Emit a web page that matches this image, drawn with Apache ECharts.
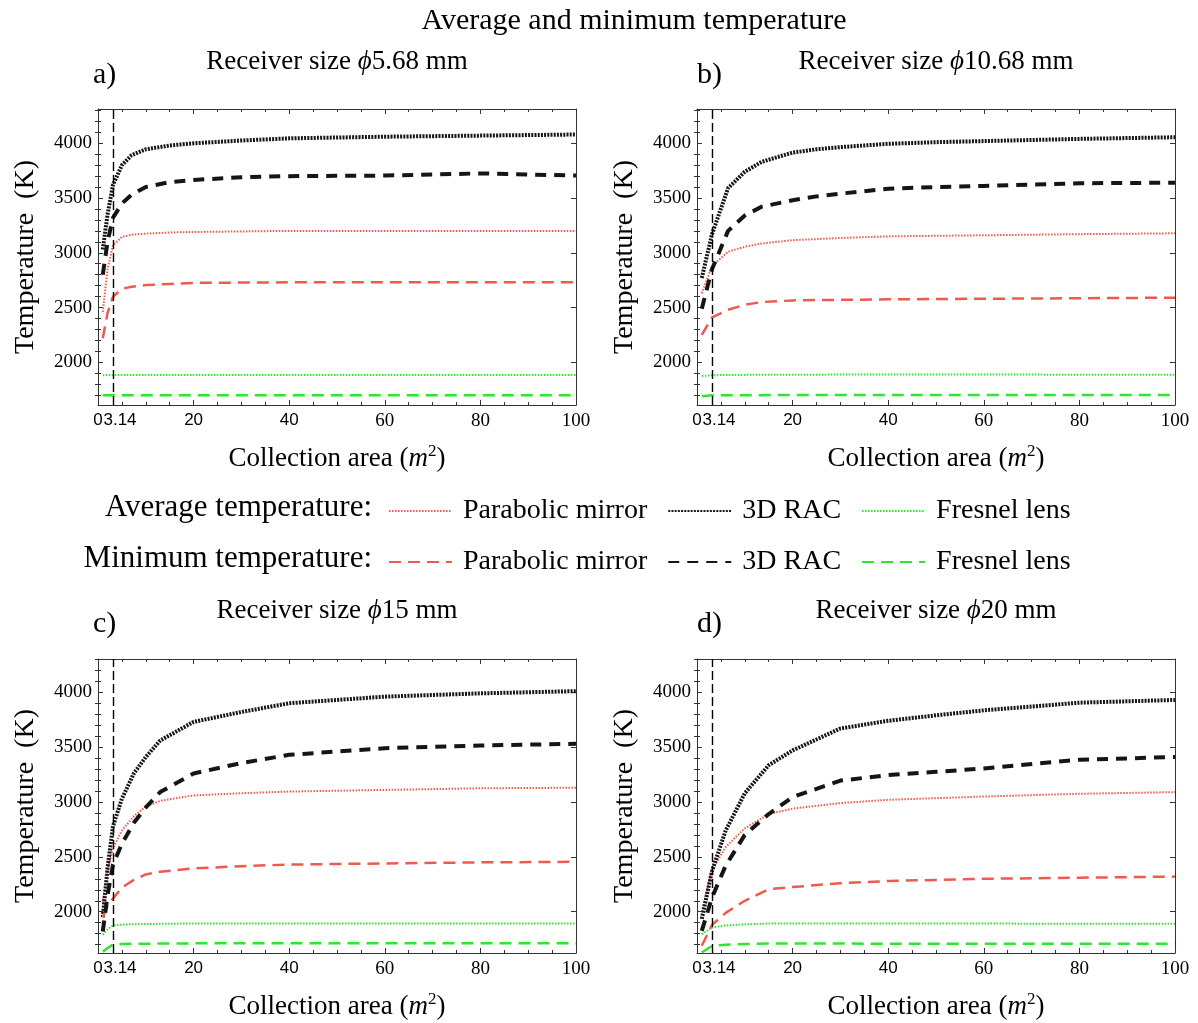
<!DOCTYPE html>
<html><head><meta charset="utf-8">
<script src="https://cdn.jsdelivr.net/npm/echarts@6/dist/echarts.min.js"></script>
<style>html,body{margin:0;padding:0;background:#fff}#c{width:1198px;height:1023px}</style>
</head><body><div id="c"></div>
<script>
// ---------- tick values ----------
const xTickLabels = [0, 3.14, 20, 40, 60, 80, 100];
const xMajorTicks = [0, 20, 40, 60, 80, 100];
const xMinorTicks = [5, 10, 15, 25, 30, 35, 45, 50, 55, 65, 70, 75, 85, 90, 95];
const yMajorTicks = [2000, 2500, 3000, 3500, 4000];
const yMinorTicks = [1700, 1800, 1900, 2100, 2200, 2300, 2400, 2600, 2700, 2800, 2900,
  3100, 3200, 3300, 3400, 3600, 3700, 3800, 3900, 4100, 4200, 4300];
const refX = 3.14;

// ---------- panel a : receiver 5.68 mm ----------
const xA      = [1, 2, 3.14, 5, 7, 10, 15, 20, 30, 40, 60, 80, 100];
const aAvgPar = [2460, 2850, 3070, 3145, 3165, 3175, 3185, 3190, 3195, 3200, 3200, 3200, 3200];
const aAvgRAC = [3030, 3350, 3620, 3800, 3890, 3945, 3980, 4000, 4025, 4045, 4060, 4070, 4080];
const aAvgFre = [1882, 1884, 1885, 1885, 1885, 1885, 1885, 1885, 1885, 1885, 1885, 1885, 1885];
const aMinPar = [2220, 2450, 2600, 2670, 2690, 2705, 2715, 2725, 2728, 2730, 2730, 2730, 2730];
const aMinRAC = [2800, 3100, 3320, 3450, 3530, 3600, 3645, 3665, 3690, 3700, 3705, 3725, 3705];
const aMinFre = [1698, 1700, 1700, 1700, 1700, 1700, 1700, 1700, 1700, 1700, 1700, 1700, 1700];

// ---------- panel b : receiver 10.68 mm ----------
const xB      = [1, 3.14, 6.5, 10, 13.5, 20, 25, 30, 40, 50, 60, 80, 100];
const bAvgPar = [2630, 2880, 3010, 3055, 3085, 3115, 3125, 3135, 3150, 3155, 3160, 3170, 3178];
const bAvgRAC = [2770, 3170, 3590, 3740, 3830, 3915, 3945, 3965, 3995, 4010, 4020, 4040, 4055];
const bAvgFre = [1875, 1882, 1884, 1885, 1886, 1887, 1887, 1888, 1888, 1888, 1888, 1887, 1886];
const bMinPar = [2250, 2410, 2480, 2525, 2550, 2565, 2568, 2570, 2575, 2578, 2580, 2585, 2590];
const bMinRAC = [2490, 2850, 3200, 3340, 3420, 3480, 3515, 3540, 3585, 3600, 3610, 3635, 3640];
const bMinFre = [1690, 1698, 1700, 1700, 1700, 1701, 1702, 1702, 1702, 1702, 1702, 1701, 1701];

// ---------- panel c : receiver 15 mm ----------
const xC      = [1, 2, 3.14, 5, 7.5, 10, 13, 20, 30, 40, 60, 80, 100];
const cAvgPar = [2080, 2380, 2580, 2740, 2870, 2960, 3010, 3060, 3080, 3095, 3110, 3125, 3130];
const cAvgRAC = [1950, 2400, 2780, 3030, 3260, 3410, 3560, 3730, 3820, 3900, 3960, 3990, 4010];
const cAvgFre = [1790, 1840, 1875, 1882, 1886, 1888, 1890, 1893, 1893, 1893, 1893, 1893, 1893];
const cMinPar = [1950, 2050, 2120, 2220, 2290, 2340, 2365, 2395, 2415, 2430, 2440, 2450, 2455];
const cMinRAC = [1820, 2150, 2430, 2620, 2810, 2950, 3090, 3260, 3355, 3430, 3490, 3515, 3530];
const cMinFre = [1635, 1670, 1700, 1705, 1708, 1709, 1710, 1712, 1712, 1712, 1712, 1712, 1712];

// ---------- panel d : receiver 20 mm ----------
const xD      = [1, 3.14, 6, 10, 15, 20, 30, 40, 50, 60, 80, 100];
const dAvgPar = [2000, 2380, 2590, 2760, 2890, 2940, 2990, 3020, 3035, 3050, 3075, 3090];
const dAvgRAC = [1935, 2370, 2740, 3080, 3335, 3470, 3670, 3740, 3790, 3835, 3905, 3930];
const dAvgFre = [1796, 1857, 1875, 1885, 1893, 1893, 1893, 1892, 1892, 1892, 1891, 1890];
const dMinPar = [1690, 1880, 1990, 2100, 2205, 2225, 2260, 2280, 2290, 2300, 2310, 2320];
const dMinRAC = [1825, 2130, 2420, 2700, 2890, 3045, 3195, 3245, 3275, 3305, 3385, 3410];
const dMinFre = [1628, 1689, 1700, 1705, 1710, 1710, 1710, 1708, 1708, 1708, 1708, 1708];

const panels = [
  {x: xA, d: [aAvgPar, aAvgRAC, aAvgFre, aMinPar, aMinRAC, aMinFre], ymin: 1610, ymax: 4313},
  {x: xB, d: [bAvgPar, bAvgRAC, bAvgFre, bMinPar, bMinRAC, bMinFre], ymin: 1610, ymax: 4313},
  {x: xC, d: [cAvgPar, cAvgRAC, cAvgFre, cMinPar, cMinRAC, cMinFre], ymin: 1624, ymax: 4303},
  {x: xD, d: [dAvgPar, dAvgRAC, dAvgFre, dMinPar, dMinRAC, dMinFre], ymin: 1624, ymax: 4303}
];
const seriesNames = ['Average: Parabolic mirror', 'Average: 3D RAC', 'Average: Fresnel lens',
                     'Minimum: Parabolic mirror', 'Minimum: 3D RAC', 'Minimum: Fresnel lens'];
const RED = '#ee5a4e', BLK = '#151515', GRN = '#2fe52f';
const lineStyles = [
  {color: RED, width: 2,   type: [1.5, 1.5]},
  {color: BLK, width: 4,   type: [2, 1.2]},
  {color: GRN, width: 2,   type: [1.5, 1.5]},
  {color: RED, width: 2.5, type: [12, 7]},
  {color: BLK, width: 4,   type: [11, 8]},
  {color: GRN, width: 2.5, type: [12, 7]}
];

const grids = [
  {left: 98, top: 109, width: 478, height: 296},
  {left: 697, top: 109, width: 478, height: 296},
  {left: 98, top: 659, width: 478, height: 294},
  {left: 697, top: 659, width: 478, height: 294}
];

const SERIF = '"Liberation Serif", "Times New Roman", serif';
const SANS = '"Liberation Sans", Arial, sans-serif';
const frame = {color: '#333', width: 1};

const xAxes = [], yAxes = [], series = [];
panels.forEach((p, g) => {
  const common = {gridIndex: g, type: 'value', min: 0, max: 100, splitLine: {show: false}};
  xAxes.push(Object.assign({}, common, {
    position: 'bottom',
    axisLine: {show: true, onZero: false, lineStyle: frame},
    axisTick: {show: true, inside: true, length: 5, customValues: xMajorTicks, lineStyle: frame},
    axisLabel: {
      show: true, customValues: xTickLabels, margin: 7, color: '#000',
      formatter: v => v === 3.14 ? '{p|3.14}' : (v <= 40 ? '{s|' + v + '}' : '{t|' + v + '}'),
      rich: {
        s: {fontFamily: SANS, fontSize: 17, color: '#000'},
        p: {fontFamily: SANS, fontSize: 17, color: '#000', padding: [0, 0, 0, 14]},
        t: {fontFamily: SERIF, fontSize: 19, color: '#000'}
      }
    },
    name: 'Collection area ({i|m}{s|2})', nameLocation: 'middle', nameGap: 38,
    nameTextStyle: {
      fontFamily: SERIF, fontSize: 27, color: '#000',
      rich: {
        i: {fontFamily: SERIF, fontSize: 27, fontStyle: 'italic', color: '#000'},
        s: {fontFamily: SERIF, fontSize: 17, color: '#000', padding: [0, 0, 14, 0]}
      }
    }
  }));
  xAxes.push(Object.assign({}, common, {
    position: 'bottom', axisLine: {show: false},
    axisTick: {show: true, inside: true, length: 3, customValues: xMinorTicks, lineStyle: frame},
    axisLabel: {show: false}
  }));
  xAxes.push(Object.assign({}, common, {
    position: 'top', axisLine: {show: true, onZero: false, lineStyle: frame},
    axisTick: {show: true, inside: true, length: 5, customValues: xMajorTicks, lineStyle: frame},
    axisLabel: {show: false}
  }));
  xAxes.push(Object.assign({}, common, {
    position: 'top', axisLine: {show: false},
    axisTick: {show: true, inside: true, length: 3, customValues: xMinorTicks, lineStyle: frame},
    axisLabel: {show: false}
  }));

  const yc = {gridIndex: g, type: 'value', min: p.ymin, max: p.ymax, splitLine: {show: false}};
  yAxes.push(Object.assign({}, yc, {
    position: 'left',
    axisLine: {show: true, onZero: false, lineStyle: frame},
    axisTick: {show: true, inside: true, length: 5, customValues: yMajorTicks, lineStyle: frame},
    axisLabel: {show: true, customValues: yMajorTicks, margin: 6, color: '#000',
                fontFamily: SERIF, fontSize: 19, formatter: v => String(v)},
    name: 'Temperature  (K)', nameLocation: 'middle', nameGap: 58,
    nameTextStyle: {fontFamily: SERIF, fontSize: 28, color: '#000'}
  }));
  yAxes.push(Object.assign({}, yc, {
    position: 'left', axisLine: {show: false},
    axisTick: {show: true, inside: true, length: 3, customValues: yMinorTicks, lineStyle: frame},
    axisLabel: {show: false}
  }));
  yAxes.push(Object.assign({}, yc, {
    position: 'right', axisLine: {show: true, onZero: false, lineStyle: frame},
    axisTick: {show: true, inside: true, length: 5, customValues: yMajorTicks, lineStyle: frame},
    axisLabel: {show: false}
  }));
  yAxes.push(Object.assign({}, yc, {
    position: 'right', axisLine: {show: false},
    axisTick: {show: true, inside: true, length: 3, customValues: yMinorTicks, lineStyle: frame},
    axisLabel: {show: false}
  }));

  p.d.forEach((ys, k) => {
    const s = {
      name: seriesNames[k], type: 'line', xAxisIndex: g * 4, yAxisIndex: g * 4,
      symbol: 'none', smooth: false, silent: true, animation: false,
      lineStyle: lineStyles[k], itemStyle: {color: lineStyles[k].color},
      data: p.x.map((x, i) => [x, ys[i]])
    };
    if (k === 0) {
      s.markLine = {
        silent: true, symbol: 'none', label: {show: false}, animation: false,
        lineStyle: {color: '#000', width: 1.4, type: [9, 4]},
        data: [{xAxis: refX}]
      };
    }
    series.push(s);
  });
});

const legendCommon = {
  itemWidth: 63, itemHeight: 14, itemGap: 20, selectedMode: false,
  formatter: n => n.split(': ')[1],
  itemStyle: {color: 'rgba(0,0,0,0)', borderColor: 'rgba(0,0,0,0)', borderWidth: 0, opacity: 0},
  textStyle: {fontFamily: SERIF, fontSize: 28, color: '#000', padding: [0, 0, 0, 6]}
};

const txt = (text, x, y, size, align, rich) => ({
  type: 'text', x: x, y: y, silent: true,
  style: {text: text, fontFamily: SERIF, fontSize: size, fill: '#000',
          textAlign: align, textVerticalAlign: 'middle', rich: rich}
});
const phiRich = {i: {fontFamily: SERIF, fontSize: 27, fontStyle: 'italic'}};

const option = {
  backgroundColor: '#fff',
  animation: false,
  grid: grids,
  xAxis: xAxes,
  yAxis: yAxes,
  series: series,
  legend: [
    Object.assign({}, legendCommon, {left: 383, top: 492, data: seriesNames.slice(0, 3)}),
    Object.assign({}, legendCommon, {left: 383, top: 543, data: seriesNames.slice(3, 6)})
  ],
  graphic: [
    txt('Average and minimum temperature', 634, 21, 30, 'center'),
    txt('a)', 93, 75, 30, 'left'),
    txt('b)', 697, 75, 30, 'left'),
    txt('c)', 93, 624, 30, 'left'),
    txt('d)', 697, 624, 30, 'left'),
    txt('Receiver size {i|ϕ}5.68 mm', 337, 62, 27, 'center', phiRich),
    txt('Receiver size {i|ϕ}10.68 mm', 936, 62, 27, 'center', phiRich),
    txt('Receiver size {i|ϕ}15 mm', 337, 611, 27, 'center', phiRich),
    txt('Receiver size {i|ϕ}20 mm', 936, 611, 27, 'center', phiRich),
    txt('Average temperature:', 372, 508, 31, 'right'),
    txt('Minimum temperature:', 372, 559, 31, 'right')
  ]
};

const chart = echarts.init(document.getElementById('c'), null, {renderer: 'canvas'});
chart.setOption(option);
</script>
</body></html>
